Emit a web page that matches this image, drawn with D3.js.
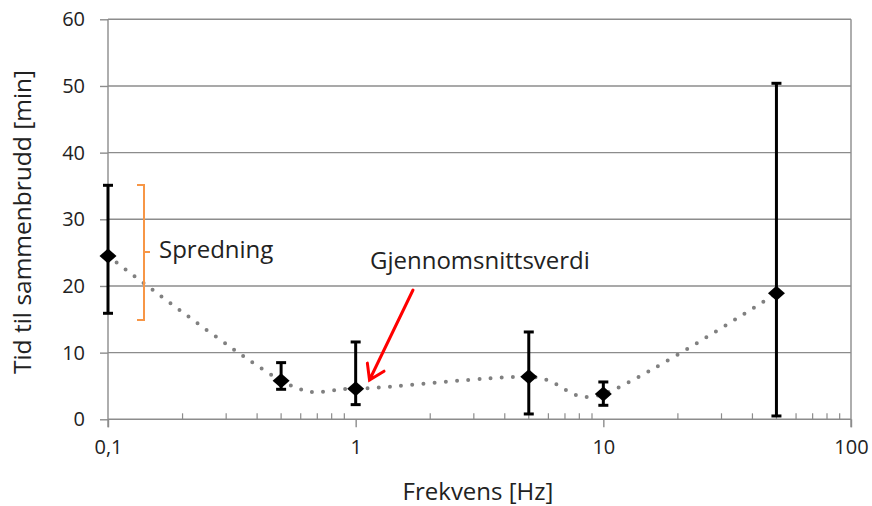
<!DOCTYPE html>
<html>
<head>
<meta charset="utf-8">
<script src="https://cdn.jsdelivr.net/npm/d3@7"></script>
<style>
  html, body { margin: 0; padding: 0; background: #fff; }
  svg { display: block; font-family: "Open Sans", "Liberation Sans", sans-serif; }
</style>
</head>
<body>
<svg id="chart" width="872" height="506"></svg>
<script>
// Frequency (Hz) of each test series
const frequencies = [0.1, 0.5, 1, 5, 10, 50];
// Mean time to failure (min)
const meanTimes = [24.5, 5.8, 4.6, 6.4, 3.8, 18.9];
// Lowest and highest observed time to failure (min)
const minTimes = [15.9, 4.5, 2.2, 0.8, 2.1, 0.5];
const maxTimes = [35.1, 8.5, 11.6, 13.1, 5.6, 50.4];

const yTicks = [0, 10, 20, 30, 40, 50, 60];
const xTickValues = [0.1, 1, 10, 100];
const xTickLabels = ["0,1", "1", "10", "100"];

const svg = d3.select("#chart");
const plotLeft = 108, plotRight = 851, plotTop = 19.3, plotBottom = 419.3;

const x = d3.scaleLog().domain([0.1, 100]).range([plotLeft, plotRight]);
const y = d3.scaleLinear().domain([0, 60]).range([plotBottom, plotTop]);

const gridColor = "#8c8c8c";
const textColor = "#222";

// Horizontal gridlines
svg.append("g").selectAll("line").data(yTicks).join("line")
  .attr("x1", plotLeft).attr("x2", plotRight)
  .attr("y1", d => y(d)).attr("y2", d => y(d))
  .attr("stroke", gridColor).attr("stroke-width", 1.4);

// Y axis ticks and labels
const yAxis = d3.axisLeft(y).tickValues(yTicks).tickSize(8).tickPadding(15);
const gy = svg.append("g").attr("transform", `translate(${plotLeft},0)`).call(yAxis);
gy.select(".domain").remove();
gy.selectAll(".tick line").attr("stroke", gridColor).attr("stroke-width", 1.4);
gy.selectAll(".tick text").attr("fill", textColor).attr("font-size", 20)
  .attr("font-family", "Open Sans");

// Left axis line and right plot border
svg.append("line").attr("x1", plotLeft).attr("x2", plotLeft)
  .attr("y1", plotTop).attr("y2", plotBottom + 8)
  .attr("stroke", gridColor).attr("stroke-width", 1.4);
svg.append("line").attr("x1", plotRight).attr("x2", plotRight)
  .attr("y1", plotTop).attr("y2", plotBottom + 8)
  .attr("stroke", gridColor).attr("stroke-width", 1.4);

// X axis: major ticks downward, minor ticks upward
const xAxis = d3.axisBottom(x).tickValues(xTickValues)
  .tickFormat((d, i) => xTickLabels[i]).tickSize(8).tickPadding(13);
const gx = svg.append("g").attr("transform", `translate(0,${plotBottom})`).call(xAxis);
gx.select(".domain").remove();
gx.selectAll(".tick line").attr("stroke", gridColor).attr("stroke-width", 1.4);
gx.selectAll(".tick text").attr("fill", textColor).attr("font-size", 20)
  .attr("font-family", "Open Sans");

const minorTicks = [];
[0.1, 1, 10].forEach(dec => { for (let k = 2; k <= 9; k++) minorTicks.push(dec * k); });
svg.append("g").selectAll("line").data(minorTicks).join("line")
  .attr("x1", d => x(d)).attr("x2", d => x(d))
  .attr("y1", plotBottom).attr("y2", plotBottom - 6)
  .attr("stroke", gridColor).attr("stroke-width", 1.2);

// Axis titles
svg.append("text").attr("x", 478).attr("y", 500).attr("text-anchor", "middle")
  .attr("font-size", 24).attr("fill", textColor).text("Frekvens [Hz]");
svg.append("text").attr("transform", "translate(31,222) rotate(-90)")
  .attr("text-anchor", "middle").attr("font-size", 24.5).attr("fill", textColor)
  .text("Tid til sammenbrudd [min]");

// Smoothed dotted trend through the means
const pts = frequencies.map((f, i) => [x(f), y(meanTimes[i])]);
svg.append("path")
  .attr("d", d3.line().curve(d3.curveCardinal.tension(0.12))(pts))
  .attr("fill", "none").attr("stroke", "#808080").attr("stroke-width", 4)
  .attr("stroke-linecap", "round").attr("stroke-dasharray", "0 11.2");

// Error bars (min-max spread)
const eb = svg.append("g").attr("stroke", "#000").attr("stroke-width", 3);
frequencies.forEach((f, i) => {
  const cx = x(f);
  eb.append("line").attr("x1", cx).attr("x2", cx)
    .attr("y1", y(minTimes[i])).attr("y2", y(maxTimes[i]));
  [minTimes[i], maxTimes[i]].forEach(v => {
    eb.append("line").attr("x1", cx - 5).attr("x2", cx + 5)
      .attr("y1", y(v)).attr("y2", y(v));
  });
});

// Diamond markers at the means
svg.append("g").selectAll("path").data(frequencies).join("path")
  .attr("d", (f, i) => {
    const cx = x(f), cy = y(meanTimes[i]), w = 8.5, h = 7.5;
    return `M${cx},${cy - h}L${cx + w},${cy}L${cx},${cy + h}L${cx - w},${cy}Z`;
  })
  .attr("fill", "#000");

// Spread bracket annotation
const bx = 144, bTop = 185, bBot = 320, bMid = 252;
svg.append("path")
  .attr("d", `M${bx - 7},${bTop}H${bx}V${bBot}H${bx - 7}M${bx},${bMid}H${bx + 6}`)
  .attr("fill", "none").attr("stroke", "#F79646").attr("stroke-width", 2);
svg.append("text").attr("x", 159).attr("y", 258).attr("font-size", 24)
  .attr("fill", textColor).text("Spredning");

// Mean value annotation with arrow
svg.append("text").attr("x", 370).attr("y", 269).attr("font-size", 24)
  .attr("fill", textColor).text("Gjennomsnittsverdi");
const a0 = [413, 290], a1 = [369.5, 380];
const ang = Math.atan2(a0[1] - a1[1], a0[0] - a1[0]);
const wing = 17, spread = Math.PI * 33 / 180;
const w1 = [a1[0] + wing * Math.cos(ang - spread), a1[1] + wing * Math.sin(ang - spread)];
const w2 = [a1[0] + wing * Math.cos(ang + spread), a1[1] + wing * Math.sin(ang + spread)];
svg.append("path")
  .attr("d", `M${a0}L${a1}M${w1}L${a1}L${w2}`)
  .attr("fill", "none").attr("stroke", "#FF0000").attr("stroke-width", 3)
  .attr("stroke-linecap", "round").attr("stroke-linejoin", "miter");
</script>
</body>
</html>
